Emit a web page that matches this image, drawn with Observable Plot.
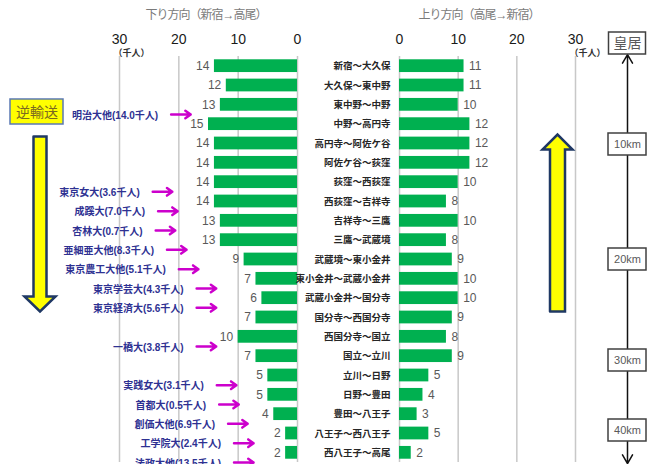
<!DOCTYPE html>
<html>
<head>
<meta charset="utf-8">
<script src="https://cdn.jsdelivr.net/npm/d3@7"></script>
<script src="https://cdn.jsdelivr.net/npm/@observablehq/plot@0.6"></script>
<style>
  body { margin: 0; background: #fff; }
  #chart { position: relative; width: 656px; height: 464px; overflow: hidden;
           font-family: "Liberation Sans", "Noto Sans CJK JP", sans-serif; }
  #chart > svg { position: absolute; top: 0; left: 0; }
  .title { position: absolute; top: 6px; transform: translateX(-50%); white-space: nowrap;
           font-size: 12px; letter-spacing: -1px; color: #7a7a7a; line-height: 18px; }
</style>
</head>
<body>
<div id="chart"></div>
<script>
// JR中央線 区間別の通勤時間帯利用者数（千人）
const segments = [
  "新宿～大久保", "大久保～東中野", "東中野～中野", "中野～高円寺", "高円寺～阿佐ケ谷",
  "阿佐ケ谷～荻窪", "荻窪～西荻窪", "西荻窪～吉祥寺", "吉祥寺～三鷹", "三鷹～武蔵境",
  "武蔵境～東小金井", "東小金井～武蔵小金井", "武蔵小金井～国分寺", "国分寺～西国分寺", "西国分寺～国立",
  "国立～立川", "立川～日野", "日野～豊田", "豊田～八王子", "八王子～西八王子", "西八王子～高尾"
];
const down = [14, 12, 13, 15, 14, 14, 14, 14, 13, 13, 9, 7, 6, 7, 10, 7, 5, 5, 4, 2, 2];
const up   = [11, 11, 10, 12, 12, 12, 10, 8, 10, 8, 9, 10, 10, 9, 8, 9, 5, 4, 3, 5, 2];
const xTicks = [0, 10, 20, 30];

// 沿線の大学（最寄り駅・学生数 千人）
const universities = ["明治大他", "東京女大", "成蹊大", "杏林大", "亜細亜大他", "東京農工大他", "東京学芸大",
  "東京経済大", "一橋大", "実践女大", "首都大", "創価大他", "工学院大", "法政大他"];
const students = [14.0, 3.6, 7.0, 0.7, 8.3, 5.1, 4.3, 5.6, 3.8, 3.1, 0.5, 6.9, 2.4, 13.5];
const nearestStation = ["中野", "西荻窪", "吉祥寺", "三鷹", "武蔵境", "東小金井", "武蔵小金井",
  "国分寺", "国立", "日野", "豊田", "八王子", "西八王子", "高尾"];
// where each callout arrow points, on the 下り axis (千人)
const arrowTip = [18.0, 21.1, 20.2, 20.6, 18.7, 16.7, 13.7, 13.7, 13.7, 10.3, 9.9, 8.4, 7.4, 7.4];

// 皇居からの距離
const kmLabels = ["皇居", "10km", "20km", "30km", "40km"];

const W = 656, H = 464, TOP = 56, BOTTOM = 2;
const rowStep = (H - TOP - BOTTOM) / segments.length;
const font = {fontFamily: "'Liberation Sans', 'Noto Sans CJK JP', sans-serif", background: "transparent"};
const yScale = {domain: segments, paddingInner: 0.34, paddingOuter: 0.17, round: false, axis: null};
const green = "#00b050";
const grid = "#c8c8c8";

const downRows = segments.map((segment, i) => ({segment, value: down[i]}));
const upRows = segments.map((segment, i) => ({segment, value: up[i]}));
const callouts = universities.map((name, i) => ({
  name, students: students[i], tip: arrowTip[i],
  segment: segments.find(s => s.endsWith("～" + nearestStation[i]))
}));
const ARROW_LEN = 3.3; // 千人

// top tick labels and the unit note under 30
const topAxis = () => [
  Plot.text(xTicks, {x: d => d, frameAnchor: "top", lineAnchor: "middle", dy: -17, fontSize: 14, fill: "#1a1a1a"}),
  Plot.text([30], {x: d => d, text: () => "（千人）", frameAnchor: "top", lineAnchor: "middle", dx: 12, dy: -3,
    fontSize: 9, fontWeight: "bold", fill: "#333"})
];

const chart = document.getElementById("chart");

// 下り方向（新宿→高尾）
const left = Plot.plot({
  width: W, height: H, marginTop: TOP, marginBottom: BOTTOM, marginLeft: 119, marginRight: W - 297,
  style: font,
  x: {domain: [0, 30], reverse: true, axis: null},
  y: yScale,
  marks: [
    Plot.ruleX(xTicks, {stroke: grid, strokeWidth: 1.5}),
    Plot.barX(downRows, {x: "value", y: "segment", fill: green}),
    Plot.text(downRows, {x: "value", y: "segment", text: "value", textAnchor: "end", dx: -5, fill: "#595959", fontSize: 12}),
    ...topAxis(),
    Plot.arrow(callouts, {x1: d => d.tip + ARROW_LEN, x2: "tip", y1: "segment", y2: "segment", dy: rowStep / 2,
      stroke: "#cc00cc", strokeWidth: 2.5, headLength: 6, headAngle: 70}),
    Plot.text(callouts, {x: d => d.tip + ARROW_LEN, y: "segment", dy: rowStep / 2 + 1, dx: -13, textAnchor: "end",
      text: d => `${d.name}(${d.students.toFixed(1)}千人)`, fill: "#2e3192", fontSize: 10, fontWeight: "bold"})
  ]
});

// 上り方向（高尾→新宿）
const right = Plot.plot({
  width: W, height: H, marginTop: TOP, marginBottom: BOTTOM, marginLeft: 399, marginRight: 81,
  style: font,
  x: {domain: [0, 30], axis: null},
  y: yScale,
  marks: [
    Plot.ruleX(xTicks, {stroke: grid, strokeWidth: 1.5}),
    Plot.barX(upRows, {x: "value", y: "segment", fill: green}),
    Plot.text(upRows, {x: "value", y: "segment", text: "value", textAnchor: "start", dx: 5, fill: "#595959", fontSize: 12}),
    Plot.text(segments, {y: d => d, text: d => d, frameAnchor: "left", textAnchor: "end", dx: -9,
      fontSize: 9.5, fontWeight: "bold", fill: "#262626"}),
    ...topAxis()
  ]
});

// block arrow outline: shaft from yTail, head ending at yTip
function blockArrow(cx, yTail, yTip, shaft, head, headLen) {
  const dir = Math.sign(yTip - yTail);
  const yBase = yTip - dir * headLen;
  return [[cx - shaft / 2, yTail], [cx + shaft / 2, yTail], [cx + shaft / 2, yBase], [cx + head / 2, yBase],
          [cx, yTip], [cx - head / 2, yBase], [cx - shaft / 2, yBase], [cx - shaft / 2, yTail]];
}
const kmY = [43, 144, 259, 360, 430];
const kmRows = kmLabels.map((label, i) => ({label, y: kmY[i], w: i === 0 ? 37 : 38}));

// 逆輸送・方向の矢印・皇居からの距離
const overlay = Plot.plot({
  width: W, height: H, margin: 0,
  style: font,
  x: {type: "identity"}, y: {type: "identity"},
  marks: [
    Plot.rect([0], {x1: 10, x2: 63, y1: 99, y2: 124, fill: "#ffff00", stroke: "#5a78b4", strokeWidth: 1.5}),
    Plot.text(["逆輸送"], {x: 36.5, y: 112, text: d => d, fontSize: 14, fill: "#7a6a20"}),
    Plot.line(blockArrow(39.5, 136, 311, 13, 31, 15), {x: d => d[0], y: d => d[1], fill: "#ffff00",
      stroke: "#1f3864", strokeWidth: 2.5, strokeLinejoin: "miter", strokeMiterlimit: 10}),
    Plot.line(blockArrow(557, 311, 134, 15, 30, 15), {x: d => d[0], y: d => d[1], fill: "#ffff00",
      stroke: "#1f3864", strokeWidth: 2.5, strokeLinejoin: "miter", strokeMiterlimit: 10}),
    Plot.arrow([{from: 250, to: 54}, {from: 250, to: 463}], {x1: 627, x2: 627, y1: "from", y2: "to",
      stroke: "#111", strokeWidth: 1.5, headLength: 10, headAngle: 60}),
    Plot.rect(kmRows, {x1: d => 627 - d.w / 2, x2: d => 627 + d.w / 2, y1: d => d.y - 11, y2: d => d.y + 11,
      fill: "white", stroke: "#404040", strokeWidth: 1.5}),
    Plot.text(kmRows, {x: 627, y: "y", text: "label", fontSize: d => d.label === "皇居" ? 14 : 11, fill: "#595959"})
  ]
});

chart.append(left, right, overlay);

for (const [text, cx] of [["下り方向（新宿→高尾）", 206], ["上り方向（高尾→新宿）", 479]]) {
  const div = document.createElement("div");
  div.className = "title";
  div.textContent = text;
  div.style.left = cx + "px";
  chart.append(div);
}
</script>
</body>
</html>
